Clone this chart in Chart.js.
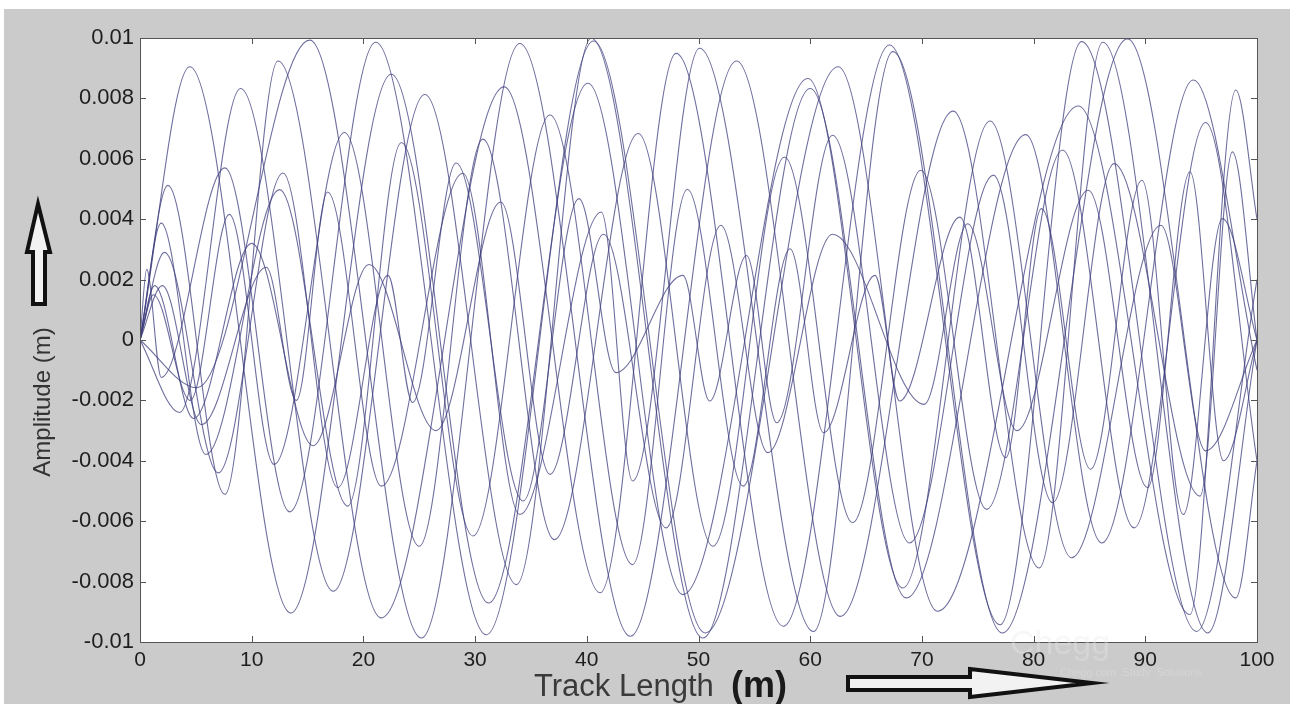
<!DOCTYPE html>
<html>
<head>
<meta charset="utf-8">
<script src="https://cdn.jsdelivr.net/npm/chart.js@4"></script>
<style>
  html, body { margin: 0; padding: 0; background: #cbcbcb; }
  #wrap { width: 1290px; height: 704px; }
</style>
</head>
<body>
<div id="wrap"><canvas id="grafico" width="1290" height="704"></canvas></div>
<script>
// axis ticks
const xTicks = [0, 10, 20, 30, 40, 50, 60, 70, 80, 90, 100];
const yTicks = [-0.01, -0.008, -0.006, -0.004, -0.002, 0, 0.002, 0.004, 0.006, 0.008, 0.01];
const yTickLabels = ['-0.01', '-0.008', '-0.006', '-0.004', '-0.002', '0', '0.002', '0.004', '0.006', '0.008', '0.01'];

// curves: [track length (m), amplitude (m)] at the peaks and troughs
const curve1 = [[0, 0], [4.45, 0.00905], [13.5, -0.00904], [22.5, 0.0088], [31.2, -0.00871], [40.1, 0.0085], [48.6, -0.00843], [59.8, 0.00866], [68.3, -0.00821], [76.1, 0.00725], [83.4, -0.00721], [91.4, 0.0038], [95.4, -0.00367], [100, 0]];
const curve2 = [[0, 0], [2.5, 0.00512], [7.6, -0.00511], [12.35, 0.00924], [21.6, -0.0092], [32.6, 0.00838], [41.2, -0.00837], [48.0, 0.00949], [57.6, -0.00948], [67.1, 0.00977], [77.0, -0.00943], [84.3, 0.00988], [94.6, -0.00965], [100, 0.002]];
const curve3 = [[0, 0], [5.1, -0.00158], [15.2, 0.00993], [25.2, -0.00987], [34.0, 0.00982], [43.9, -0.00981], [53.4, 0.00924], [62.7, -0.00915], [72.8, 0.00758], [80.5, -0.00755], [86.2, 0.00986], [95.6, -0.0097], [100, 0]];
const curve4 = [[0, 0], [3.55, -0.0024], [9.0, 0.00833], [17.3, -0.00832], [25.5, 0.00813], [33.7, -0.0081], [40.4, 0.00999], [50.4, -0.00987], [60.0, 0.00833], [68.6, -0.00854], [79.3, 0.0068], [86.1, -0.00672], [94.3, 0.00861], [100, -0.001]];
const curve5 = [[0, 0], [0.6, 0.00234], [1.9, -0.00124], [7.6, 0.0057], [13.4, -0.00569], [21.1, 0.00986], [31.0, -0.00976], [40.6, 0.0099], [50.6, -0.0097], [62.5, 0.00905], [71.4, -0.00898], [84.0, 0.00775], [94.0, -0.00909], [98.1, 0.00828], [100, 0.004]];
const curve6 = [[0, 0], [1.2, 0.0015], [4.5, -0.002], [8.0, 0.00416], [12.0, -0.00412], [18.3, 0.00687], [25.0, -0.00683], [30.7, 0.00665], [37.1, -0.00661], [44.6, 0.00684], [51.3, -0.00683], [57.7, 0.00606], [63.8, -0.00605], [69.9, 0.00562], [75.8, -0.00561], [82.6, 0.00629], [89.0, -0.00622], [95.4, 0.0072], [100, -0.004]];
const curve7 = [[0, 0], [1.9, 0.00387], [5.9, -0.00379], [12.5, 0.00498], [18.6, -0.0055], [23.4, 0.00654], [29.8, -0.00649], [36.7, 0.00745], [44.1, -0.00744], [49.0, 0.00499], [54.0, -0.00484], [58.2, 0.00302], [61.2, -0.00307], [65.8, 0.00214], [68.0, -0.00202], [73.4, 0.00407], [77.5, -0.0039], [80.7, 0.00435], [85.1, -0.00428], [89.7, 0.00529], [93.4, -0.00578], [96.9, 0.00402], [100, 0]];
const curve8 = [[0, 0], [2.2, 0.0029], [7.0, -0.0044], [12.8, 0.00553], [17.7, -0.00489], [22.2, 0.00214], [24.4, -0.00207], [28.3, 0.00586], [34.3, -0.00533], [39.3, 0.00468], [42.6, -0.00108], [48.6, 0.00214], [51.0, -0.00202], [54.3, 0.0028], [57.0, -0.00274], [62.0, 0.00678], [68.9, -0.00672], [76.4, 0.00546], [81.7, -0.00539], [87.2, 0.00584], [94.9, -0.00517], [97.8, 0.00623], [100, 0]];
const curve9 = [[0, 0], [2.0, 0.0018], [5.5, -0.0028], [11.3, 0.00241], [14.0, -0.002], [16.8, 0.0049], [21.6, -0.00484], [28.9, 0.00552], [34.0, -0.00578], [41.3, 0.00424], [44.1, -0.00467], [50.1, 0.00966], [60.3, -0.00965], [67.4, 0.00955], [77.2, -0.0097], [88.4, 0.00997], [98.1, -0.00854], [100, -0.004]];
const curve10 = [[0, 0], [1.3, 0.0018], [4.8, -0.0026], [10.0, 0.0032], [15.5, -0.0035], [20.5, 0.0025], [26.5, -0.003], [32.3, 0.00457], [36.7, -0.00445], [41.5, 0.0035], [47.1, -0.00622], [52.0, 0.0038], [56.2, -0.00373], [62.0, 0.0035], [70.2, -0.00213], [74.1, 0.00385], [78.5, -0.003], [84.9, 0.00496], [90.2, -0.00489], [94.0, 0.00557], [97.0, -0.004], [100, 0]];

const curves = [curve1, curve2, curve3, curve4, curve5, curve6, curve7, curve8, curve9, curve10];

const fuente = '"Liberation Sans", Arial, sans-serif';

/*
=====================================
FONDO, MARCO Y TEXTOS
=====================================
*/

const marco = {
    id: 'marco',
    beforeDraw(chart) {
        const { ctx, chartArea: a } = chart;
        ctx.save();
        ctx.fillStyle = '#cbcbcb';
        ctx.fillRect(0, 0, chart.width, chart.height);
        ctx.fillStyle = '#ffffff';
        ctx.fillRect(0, 0, chart.width, 9);
        ctx.fillRect(0, 0, 4, chart.height);
        ctx.fillRect(a.left, a.top, a.right - a.left, a.bottom - a.top);
        ctx.restore();
    },
    afterDatasetsDraw(chart) {
        const { ctx, chartArea: a, scales } = chart;
        ctx.save();
        ctx.strokeStyle = '#555555';
        ctx.lineWidth = 1;
        ctx.beginPath();
        xTicks.forEach(v => {
            const px = Math.round(scales.x.getPixelForValue(v)) + 0.5;
            ctx.moveTo(px, a.bottom); ctx.lineTo(px, a.bottom - 6);
            ctx.moveTo(px, a.top); ctx.lineTo(px, a.top + 6);
        });
        yTicks.forEach(v => {
            const py = Math.round(scales.y.getPixelForValue(v)) + 0.5;
            ctx.moveTo(a.left, py); ctx.lineTo(a.left + 6, py);
            ctx.moveTo(a.right, py); ctx.lineTo(a.right - 6, py);
        });
        ctx.stroke();
        ctx.strokeRect(a.left + 0.5, a.top + 0.5, a.right - a.left, a.bottom - a.top);

        // titles
        ctx.fillStyle = '#333333';
        ctx.font = '24px ' + fuente;
        ctx.save();
        ctx.translate(50, 402);
        ctx.rotate(-Math.PI / 2);
        ctx.textAlign = 'center';
        ctx.textBaseline = 'alphabetic';
        ctx.fillText('Amplitude (m)', 0, 0);
        ctx.restore();

        ctx.textAlign = 'left';
        ctx.textBaseline = 'alphabetic';
        ctx.fillStyle = '#3a3a3a';
        ctx.font = '31px ' + fuente;
        ctx.fillText('Track Length', 534, 696);
        ctx.fillStyle = '#1a1a1a';
        ctx.font = 'bold 36px ' + fuente;
        ctx.fillText('(m)', 731, 697);

        // watermark
        ctx.fillStyle = 'rgba(232,232,232,0.35)';
        ctx.font = '34px ' + fuente;
        ctx.fillText('Chegg', 1010, 654);
        ctx.font = '11px ' + fuente;
        ctx.fillText('Chegg.com  Study  Solutions', 1060, 676);

        // arrows
        ctx.lineWidth = 4;
        ctx.strokeStyle = '#111111';
        ctx.fillStyle = '#f2f2f2';
        ctx.lineJoin = 'miter';
        ctx.beginPath();
        ctx.moveTo(38, 204);
        ctx.lineTo(50, 252);
        ctx.lineTo(45, 252);
        ctx.lineTo(45, 304);
        ctx.lineTo(33, 304);
        ctx.lineTo(33, 252);
        ctx.lineTo(27, 252);
        ctx.closePath();
        ctx.fill();
        ctx.stroke();

        ctx.beginPath();
        ctx.moveTo(848, 677);
        ctx.lineTo(970, 677);
        ctx.lineTo(970, 669);
        ctx.lineTo(1092, 683);
        ctx.lineTo(970, 697);
        ctx.lineTo(970, 690);
        ctx.lineTo(848, 690);
        ctx.closePath();
        ctx.fill();
        ctx.stroke();
        ctx.restore();
    }
};

new Chart(document.getElementById('grafico'), {
    type: 'line',
    data: {
        datasets: curves.map((c, i) => ({
            label: 'curve ' + (i + 1),
            data: c.map(p => ({ x: p[0], y: p[1] })),
            borderColor: 'rgba(62, 62, 125, 0.75)',
            borderWidth: 1.1,
            pointRadius: 0,
            fill: false,
            cubicInterpolationMode: 'monotone'
        }))
    },
    options: {
        responsive: false,
        animation: false,
        layout: { padding: { top: 38, right: 33, left: 0, bottom: 0 } },
        plugins: {
            legend: { display: false },
            tooltip: { enabled: false }
        },
        scales: {
            x: {
                type: 'linear',
                min: 0,
                max: 100,
                afterFit: s => { s.height = 62; },
                afterBuildTicks: s => { s.ticks = xTicks.map(v => ({ value: v })); },
                grid: { display: false, drawTicks: false },
                border: { display: false },
                ticks: {
                    color: '#1e1e1e',
                    font: { family: fuente, size: 21 },
                    padding: 6,
                    maxRotation: 0,
                    callback: v => String(v)
                }
            },
            y: {
                type: 'linear',
                min: -0.01,
                max: 0.01,
                afterFit: s => { s.width = 140; },
                afterBuildTicks: s => { s.ticks = yTicks.map(v => ({ value: v })); },
                grid: { display: false, drawTicks: false },
                border: { display: false },
                ticks: {
                    color: '#1e1e1e',
                    font: { family: fuente, size: 22 },
                    padding: 6,
                    callback: (v, i) => yTickLabels[i]
                }
            }
        }
    },
    plugins: [marco]
});
</script>
</body>
</html>
